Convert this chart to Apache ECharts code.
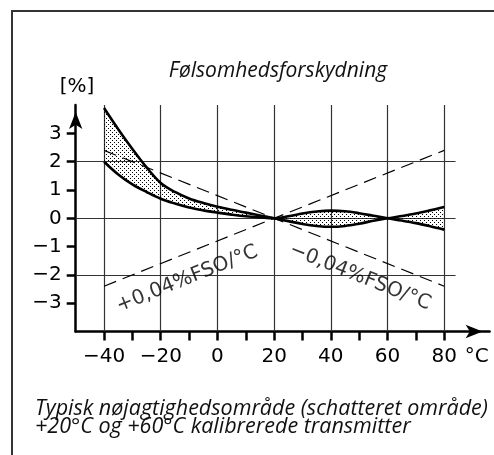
<!DOCTYPE html>
<html>
<head>
<meta charset="utf-8">
<script src="https://cdn.jsdelivr.net/npm/echarts@6/dist/echarts.min.js"></script>
<style>
html,body{margin:0;padding:0;background:#fff;}
#chart{width:494px;height:455px;}
</style>
</head>
<body>
<div id="chart"></div>
<script>
// ---- data ----
const temps      = [-40, -35, -30, -25, -20, -15, -10, -5, 0, 5, 10, 15, 20, 25, 30, 35, 40, 45, 50, 55, 60, 65, 70, 75, 80];
const curveHigh  = [3.9, 3.15, 2.45, 1.8, 1.25, 0.93, 0.7, 0.54, 0.41, 0.3, 0.2, 0.1, 0, -0.1, -0.2, -0.27, -0.3, -0.27, -0.19, -0.09, 0, 0.08, 0.17, 0.28, 0.4];
const curveLow   = [2.0, 1.55, 1.2, 0.93, 0.69, 0.52, 0.38, 0.28, 0.2, 0.13, 0.07, 0.03, 0, 0.07, 0.17, 0.24, 0.27, 0.25, 0.18, 0.09, 0, -0.08, -0.17, -0.28, -0.4];
const xTickVals  = [-40, -30, -20, -10, 0, 10, 20, 30, 40, 50, 60, 70, 80];
const xLabelVals = [-40, -20, 0, 20, 40, 60, 80];
const yLabelVals = [-3, -2, -1, 0, 1, 2, 3];
const gridXVals  = [-40, -20, 0, 20, 40, 60, 80];
const gridYVals  = [-2, 0, 2];
const slopes     = [0.04, -0.04];           // %FSO per °C
const refTemp    = 20;
const slopeRange = [-40, 80];
const slopeLabels = ['+0,04%FSO/°C', '\u22120,04%FSO/°C'];
const slopeLabelPos = [[-10.7, -2.14], [50.3, -2.07]];
const unitX = '°C';
const unitY = '[%]';
const title = 'Følsomhedsforskydning';
const caption = ['Typisk nøjagtighedsområde (schatteret område)', '+20°C og +60°C kalibrerede transmitter'];

// ---- layout ----
const X_MIN = -50, X_MAX = 96, Y_MIN = -4, Y_MAX = 4, GRID_X_END = 84;
const fmt = v => (v < 0 ? '\u2212' + (-v) : String(v));

const cvs = document.createElement('canvas');
cvs.width = 4; cvs.height = 4;
const ctx = cvs.getContext('2d');
ctx.fillStyle = '#000';
ctx.fillRect(0, 0, 1, 1);
ctx.fillRect(2, 2, 1, 1);

const chart = echarts.init(document.getElementById('chart'), null, {renderer: 'canvas'});

const gridLines = [];
gridXVals.forEach(x => gridLines.push({coords: [[x, Y_MIN], [x, Y_MAX]]}));
gridYVals.forEach(y => gridLines.push({coords: [[X_MIN, y], [GRID_X_END, y]]}));

const slopeLines = slopes.map(s => ({coords: slopeRange.map(t => [t, s * (t - refTemp)])}));

const axisFont = {fontFamily: 'DejaVu Sans', fontSize: 20, color: '#000'};

// rows are [value, temperature] so that the stack runs on the y dimension
const lowRows  = temps.map((t, i) => [curveLow[i], t]);
const bandRows = temps.map((t, i) => [curveHigh[i] - curveLow[i], t]);

chart.setOption({
  animation: false,
  backgroundColor: '#fff',
  grid: {left: 75.7, right: 4.4, top: 105.1, bottom: 123.5},
  xAxis: {
    type: 'value', min: X_MIN, max: X_MAX,
    splitLine: {show: false},
    axisLine: {show: true, onZero: false, lineStyle: {color: '#000', width: 2.5},
      symbol: ['none', 'arrow'], symbolSize: [10, 17], symbolOffset: [0, -7]},
    axisTick: {show: true, length: 9, lineStyle: {color: '#000', width: 2.5}, customValues: xTickVals},
    axisLabel: Object.assign({show: true, margin: 15, customValues: xLabelVals.concat([91.5]),
      formatter: v => (v > 85 ? unitX : fmt(v))}, axisFont)
  },
  yAxis: {
    type: 'value', min: Y_MIN, max: Y_MAX,
    splitLine: {show: false},
    axisLine: {show: true, onZero: false, lineStyle: {color: '#000', width: 2.5},
      symbol: ['none', 'arrow'], symbolSize: [10, 17], symbolOffset: [0, -7]},
    axisTick: {show: true, length: 9, lineStyle: {color: '#000', width: 2.5}, customValues: yLabelVals},
    axisLabel: Object.assign({show: true, margin: 14, customValues: yLabelVals, formatter: fmt}, axisFont)
  },
  graphic: [
    {type: 'rect', shape: {x: 12, y: 11, width: 800, height: 800}, style: {fill: 'none', stroke: '#333', lineWidth: 2}, silent: true, z: 0},
    {type: 'text', x: 278, y: 71, style: {text: title, font: 'italic 21px "Open Sans"', fill: '#111', textAlign: 'center', textVerticalAlign: 'middle'}},
    {type: 'text', x: 77, y: 87, style: {text: unitY, font: '20px "DejaVu Sans"', fill: '#000', textAlign: 'center', textVerticalAlign: 'middle'}},
    {type: 'text', x: 35, y: 409, style: {text: caption[0], font: 'italic 21.5px "Open Sans"', fill: '#111', textAlign: 'left', textVerticalAlign: 'middle'}},
    {type: 'text', x: 35, y: 427, style: {text: caption[1], font: 'italic 21.5px "Open Sans"', fill: '#111', textAlign: 'left', textVerticalAlign: 'middle'}}
  ],
  series: [
    {type: 'lines', coordinateSystem: 'cartesian2d', silent: true, z: 1,
      lineStyle: {color: '#333', width: 1.2, opacity: 1}, data: gridLines},
    {type: 'lines', coordinateSystem: 'cartesian2d', silent: true, z: 1,
      lineStyle: {color: '#000', width: 1.2, opacity: 1, type: [13, 7]}, data: slopeLines},
    {type: 'line', name: 'low', stack: 'band', stackStrategy: 'all', smooth: 0.35, symbol: 'none', z: 3,
      encode: {x: 1, y: 0},
      lineStyle: {color: '#000', width: 2.6}, data: lowRows},
    {type: 'line', name: 'band', stack: 'band', stackStrategy: 'all', smooth: 0.35, symbol: 'none', z: 3,
      encode: {x: 1, y: 0},
      lineStyle: {color: '#000', width: 2.6},
      areaStyle: {color: {image: cvs, repeat: 'repeat'}, opacity: 1},
      data: bandRows},
    {type: 'scatter', symbolSize: 0, silent: true, z: 4,
      data: slopeLabels.map((txt, i) => ({
        value: slopeLabelPos[i],
        label: {show: true, position: 'inside', formatter: txt, rotate: (slopes[i] > 0 ? 21.8 : -21.8),
          fontFamily: 'DejaVu Sans', fontSize: 20, color: '#000'}
      }))}
  ]
});
</script>
</body>
</html>
